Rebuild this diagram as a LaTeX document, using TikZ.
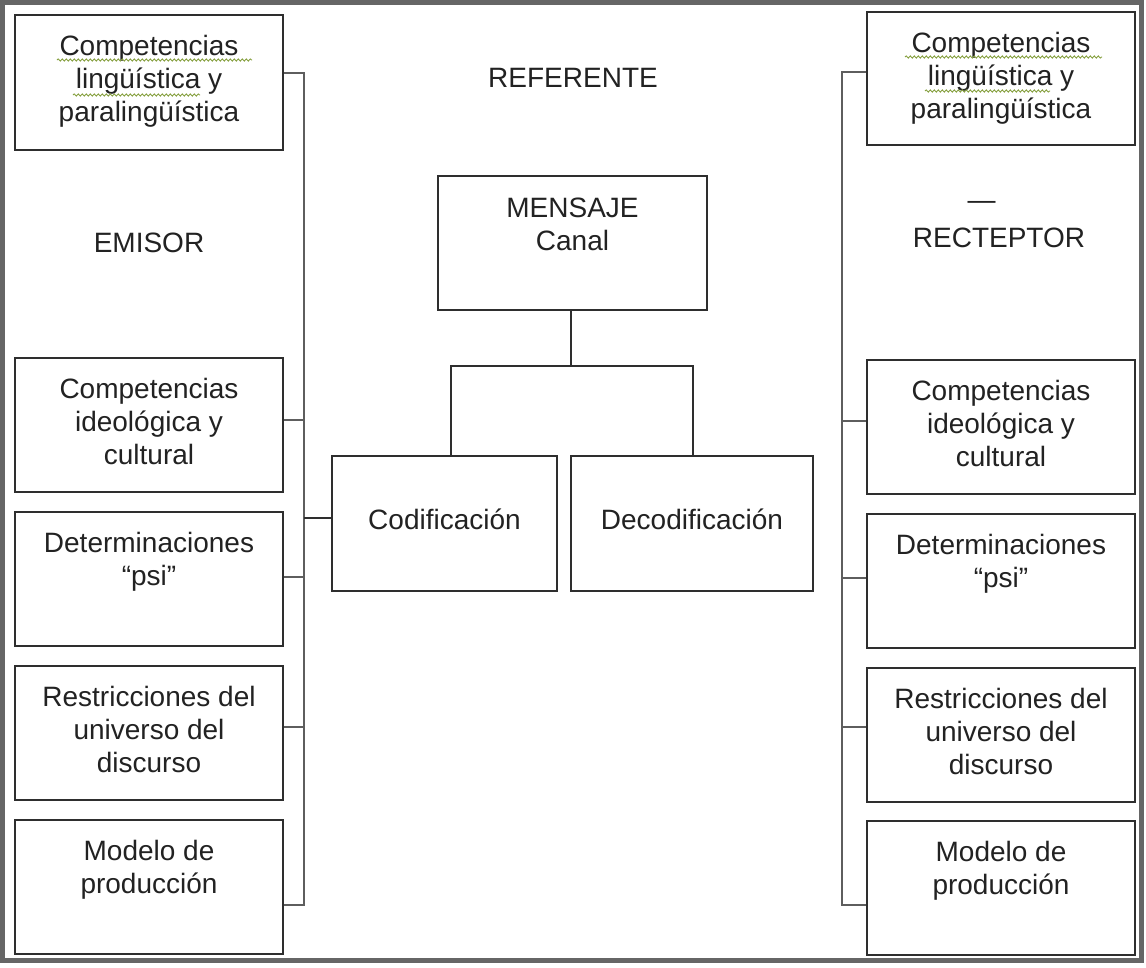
\documentclass[tikz,border=0pt]{standalone}
\usepackage{fontspec}
\setmainfont{Liberation Sans}
\usetikzlibrary{decorations.pathmorphing}
\definecolor{boxline}{HTML}{2E2E2E}
\definecolor{linkline}{HTML}{5E5E5E}
\definecolor{framec}{HTML}{666666}
\definecolor{txtc}{HTML}{222222}
\definecolor{squig}{HTML}{86A040}
\tikzset{
  boxnode/.style={draw=boxline, line width=2.2pt, rectangle, inner sep=0pt, minimum width=#1},
  boxnode/.default=268pt,
  txt/.style={text=txtc, inner sep=0pt, align=center, font=\fontsize{28}{33}\selectfont},
  boxtxt/.style={txt, anchor=north},
  link/.style={draw=linkline, line width=2.4pt},
  dlink/.style={draw=boxline, line width=2.2pt},
  spell/.style={draw=squig, line width=0.9pt, decorate, decoration={snake, amplitude=1.1pt, segment length=4pt}}
}
\begin{document}
\begin{tikzpicture}[x=1pt,y=-1pt]
\useasboundingbox (0,0) rectangle (1146,967);
\fill[white] (0,0) rectangle (1146,967);
\draw[framec, line width=5pt] (2.5,2.5) rectangle (1141.5,960.5);

% left column boxes
\node[boxnode, minimum height=135pt] (L1) at (149,82.5) {};
\node[boxnode, minimum height=134pt] (L2) at (149,425) {};
\node[boxnode, minimum height=134pt] (L3) at (149,579) {};
\node[boxnode, minimum height=134pt] (L4) at (149,733) {};
\node[boxnode, minimum height=134pt] (L5) at (149,887) {};
% right column boxes
\node[boxnode, minimum height=133pt] (R1) at (1001,78.5) {};
\node[boxnode, minimum height=134pt] (R2) at (1001,427) {};
\node[boxnode, minimum height=134pt] (R3) at (1001,581) {};
\node[boxnode, minimum height=134pt] (R4) at (1001,735) {};
\node[boxnode, minimum height=134pt] (R5) at (1001,888) {};
% centre boxes
\node[boxnode=269pt, minimum height=134pt] (M) at (572.5,243) {};
\node[boxnode=225pt, minimum height=135pt] (C) at (444.5,523.5) {};
\node[boxnode=242pt, minimum height=135pt] (D) at (692,523.5) {};

% box texts
\node[boxtxt] (tL1) at ([yshift=-21pt]L1.north) {Competencias\\lingüística y\\paralingüística};
\node[boxtxt] (tL2) at ([yshift=-21pt]L2.north) {Competencias\\ideológica y\\cultural};
\node[boxtxt] (tL3) at ([yshift=-21pt]L3.north) {Determinaciones\\“psi”};
\node[boxtxt] (tL4) at ([yshift=-21pt]L4.north) {Restricciones del\\universo del\\discurso};
\node[boxtxt] (tL5) at ([yshift=-21pt]L5.north) {Modelo de\\producción};
\node[boxtxt] (tR1) at ([yshift=-21pt]R1.north) {Competencias\\lingüística y\\paralingüística};
\node[boxtxt] (tR2) at ([yshift=-21pt]R2.north) {Competencias\\ideológica y\\cultural};
\node[boxtxt] (tR3) at ([yshift=-21pt]R3.north) {Determinaciones\\“psi”};
\node[boxtxt] (tR4) at ([yshift=-21pt]R4.north) {Restricciones del\\universo del\\discurso};
\node[boxtxt] (tR5) at ([yshift=-21pt]R5.north) {Modelo de\\producción};
\node[boxtxt] (tM) at ([yshift=-23pt]M.north) {MENSAJE\\Canal};
\node[txt, anchor=base] (tC) at (444.5,529) {Codificación};
\node[txt, anchor=base] (tD) at (692,529) {Decodificación};

% free labels
\node[txt] (ref) at (573,78) {REFERENTE};
\node[txt] (emi) at (149,243) {EMISOR};
\node[txt, anchor=base] (dash) at (981.5,209) {—};
\node[txt] (rec) at (999,237.5) {RECTEPTOR};

% spell-check underlines
\draw[spell] (57,60) -- (252,60);
\draw[spell] (73,95) -- (200,95);
\draw[spell] (905,57) -- (1102,57);
\draw[spell] (925,91) -- (1050,91);

% left bracket
\coordinate (l1) at (304,73);
\coordinate (l2) at (304,420);
\coordinate (lc) at (304,518);
\coordinate (l3) at (304,577);
\coordinate (l4) at (304,727);
\coordinate (l5) at (304,905);
\draw[link] (l1 -| L1.east) -- (l1) -- (l5) -- (l5 -| L5.east);
\draw[link] (l2) -- (l2 -| L2.east);
\draw[link] (l3) -- (l3 -| L3.east);
\draw[link] (l4) -- (l4 -| L4.east);
\draw[dlink] (lc) -- (lc -| C.west);

% right bracket
\coordinate (r1) at (842,72);
\coordinate (r2) at (842,421);
\coordinate (r3) at (842,578);
\coordinate (r4) at (842,727);
\coordinate (r5) at (842,905);
\draw[link] (r1 -| R1.west) -- (r1) -- (r5) -- (r5 -| R5.west);
\draw[link] (r2) -- (r2 -| R2.west);
\draw[link] (r3) -- (r3 -| R3.west);
\draw[link] (r4) -- (r4 -| R4.west);

% message tree
\coordinate (mj) at (571,366);
\coordinate (cj) at (451,366);
\coordinate (dj) at (693,366);
\draw[dlink] (M.south -| mj) -- (mj);
\draw[dlink] (C.north -| cj) -- (cj) -- (dj) -- (D.north -| dj);
\end{tikzpicture}
\end{document}
